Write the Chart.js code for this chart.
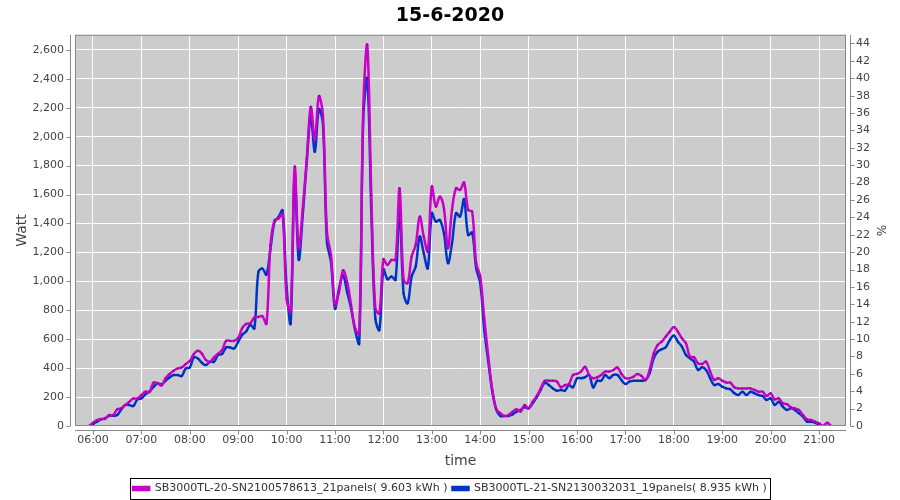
<!DOCTYPE html>
<html>
<head>
<meta charset="utf-8">
<script src="https://cdn.jsdelivr.net/npm/chart.js@4.4.0/dist/chart.umd.min.js"></script>
<style>
  html, body { margin: 0; background: #fff; }
</style>
</head>
<body>
<canvas id="chart" width="900" height="500"></canvas>
<script>
// samples every 5 minutes, starting 05:55
const startMinute = 5 * 60 + 55;
const stepMinutes = 5;

const seriesNames = [
  'SB3000TL-20-SN2100578613_21panels( 9.603 kWh )',
  'SB3000TL-21-SN2130032031_19panels( 8.935 kWh )'
];

const sb20 = [
  0, 23, 40, 48, 50, 75, 75, 115, 122, 145, 168, 190, 190,
  214, 237, 237, 300, 295, 280, 330, 360, 382, 398, 405, 428,
  450, 497, 520, 500, 455, 444, 474, 500, 524, 589, 589, 589,
  608, 676, 706, 710, 750, 754, 758, 706, 1250, 1422, 1434, 1468,
  881, 788, 1791, 1226, 1503, 1849, 2206, 1975, 2280, 2150, 1342, 1180,
  834, 927, 1076, 996, 834, 673, 640, 2194, 2632, 1595, 811, 779,
  1152, 1113, 1148, 1148, 1643, 1010, 987, 1171, 1252, 1448, 1309, 1206,
  1655, 1517, 1586, 1505, 1229, 1494, 1643, 1632, 1683, 1494, 1482, 1125,
  1033, 745, 479, 249, 115, 88, 69, 76, 99, 115, 99, 145,
  122, 168, 207, 260, 313, 313, 313, 307, 267, 283, 290, 353,
  360, 376, 410, 353, 330, 337, 353, 376, 376, 387, 406, 360,
  330, 330, 341, 360, 346, 318, 387, 502, 560, 583, 618, 652,
  685, 652, 606, 572, 479, 475, 433, 429, 445, 376, 318, 330,
  313, 300, 300, 267, 260, 260, 260, 260, 249, 237, 237, 207,
  226, 184, 191, 157, 152, 129, 122, 111, 76, 46, 41, 30,
  18, 0, 23, 0
];

const sb21 = [
  0, 14, 30, 46, 53, 71, 71, 76, 115, 145, 145, 138, 184,
  191, 220, 237, 270, 295, 288, 313, 336, 352, 352, 345, 398,
  405, 474, 467, 437, 421, 444, 444, 490, 497, 543, 543, 536,
  582, 630, 655, 700, 674, 1065, 1088, 1046, 1226, 1410, 1445, 1490,
  961, 710, 1745, 1150, 1457, 1826, 2137, 1895, 2190, 2091, 1272, 1134,
  811, 950, 1042, 927, 811, 661, 570, 2114, 2402, 1480, 742, 664,
  1083, 1014, 1033, 1010, 1505, 917, 848, 1033, 1102, 1309, 1194, 1090,
  1471, 1413, 1424, 1332, 1125, 1263, 1471, 1448, 1567, 1320, 1337, 1090,
  987, 664, 445, 237, 111, 69, 69, 69, 80, 99, 111, 129,
  122, 157, 198, 249, 300, 283, 260, 244, 249, 244, 283, 267,
  330, 330, 337, 353, 267, 313, 313, 353, 330, 353, 353, 318,
  290, 307, 313, 313, 313, 318, 364, 468, 514, 530, 544, 595,
  625, 583, 549, 491, 468, 445, 387, 406, 387, 330, 283, 290,
  272, 260, 254, 226, 214, 237, 214, 237, 226, 214, 207, 180,
  191, 145, 168, 134, 111, 122, 111, 88, 65, 30, 30, 23,
  7, 0, 0, null
];

const toPoints = arr => arr.map((v, i) => ({ x: startMinute + i * stepMinutes, y: v }));
const hhmm = m => String(Math.floor(m / 60)).padStart(2, '0') + ':' + String(m % 60).padStart(2, '0');

const FONT = 'DejaVu Sans';
const AXIS_GREY = '#888888';

const plotFrame = {
  id: 'plotFrame',
  beforeDraw(chart) {
    const { ctx, chartArea: a } = chart;
    ctx.save();
    ctx.fillStyle = '#cccccc';
    ctx.fillRect(a.left, a.top, a.right - a.left, a.bottom - a.top);
    ctx.restore();
  },
  afterDraw(chart) {
    const { ctx, chartArea: a, scales } = chart;
    ctx.save();
    ctx.strokeStyle = AXIS_GREY;
    ctx.lineWidth = 1;
    ctx.strokeRect(a.left + 0.5, a.top + 0.5, a.right - a.left - 1, a.bottom - a.top - 1);

    // offset axis lines with outward ticks
    ctx.beginPath();
    const lx = a.left - 4.5, rx = a.right + 4.5, by = a.bottom + 4.5;
    ctx.moveTo(lx, a.top); ctx.lineTo(lx, a.bottom);
    ctx.moveTo(rx, a.top); ctx.lineTo(rx, a.bottom);
    ctx.moveTo(a.left, by); ctx.lineTo(a.right, by);
    scales.y.ticks.forEach(t => {
      const py = Math.round(scales.y.getPixelForValue(t.value)) + 0.5;
      ctx.moveTo(lx, py); ctx.lineTo(lx - 4, py);
    });
    scales.y2.ticks.forEach(t => {
      const py = Math.round(scales.y2.getPixelForValue(t.value)) + 0.5;
      ctx.moveTo(rx, py); ctx.lineTo(rx + 4, py);
    });
    scales.x.ticks.forEach(t => {
      const px = Math.round(scales.x.getPixelForValue(t.value)) + 0.5;
      ctx.moveTo(px, by); ctx.lineTo(px, by + 4);
    });
    ctx.stroke();

    // legend frame
    const boxes = chart.legend.legendHitBoxes;
    if (boxes && boxes.length) {
      const left = Math.min(...boxes.map(b => b.left)) - 3;
      const right = Math.max(...boxes.map(b => b.left + b.width)) + 3;
      const top = Math.min(...boxes.map(b => b.top)) - 5;
      const bottom = Math.max(...boxes.map(b => b.top + b.height)) + 5;
      ctx.strokeStyle = '#000';
      ctx.strokeRect(Math.round(left) + 0.5, Math.round(top) + 0.5, Math.round(right - left), Math.round(bottom - top));
    }
    ctx.restore();
  }
};

new Chart(document.getElementById('chart'), {
  type: 'line',
  data: {
    datasets: [
      { label: seriesNames[0], data: toPoints(sb20), borderColor: '#cc00cc', backgroundColor: '#cc00cc',
        borderWidth: 2.5, pointRadius: 1, pointBorderWidth: 0, pointBackgroundColor: '#9a009a',
        tension: 0.35, yAxisID: 'y' },
      { label: seriesNames[1], data: toPoints(sb21), borderColor: '#0035cc', backgroundColor: '#0035cc',
        borderWidth: 2.5, pointRadius: 1, pointBorderWidth: 0, pointBackgroundColor: '#00249a',
        tension: 0.35, yAxisID: 'y' }
    ]
  },
  options: {
    responsive: false,
    animation: false,
    devicePixelRatio: 1,
    layout: { padding: { top: 0, left: 0, right: 0, bottom: -4 } },
    plugins: {
      title: {
        display: true, text: '15-6-2020', color: '#000',
        font: { family: FONT, size: 19, weight: 'bold' },
        padding: { top: 5, bottom: 7 }
      },
      legend: {
        position: 'bottom',
        labels: {
          color: '#333', font: { family: FONT, size: 11 },
          boxWidth: 16, boxHeight: 3, padding: 5
        }
      },
      tooltip: { enabled: false }
    },
    scales: {
      x: {
        type: 'linear', position: 'bottom',
        min: 337.7, max: 1293.4,
        border: { display: false },
        grid: { color: 'rgba(255,255,255,0.95)', borderDash: [2, 2], drawTicks: false },
        ticks: {
          stepSize: 60, includeBounds: false, autoSkip: false, maxRotation: 0,
          color: '#444', font: { family: FONT, size: 11 }, padding: 8,
          callback: v => hhmm(v)
        },
        title: { display: true, text: 'time', color: '#444', font: { family: FONT, size: 14 }, padding: { top: 4, bottom: 8 } },
        afterFit: s => { s.height = 52; }
      },
      y: {
        position: 'left', min: 0, max: 2704,
        border: { display: false },
        grid: { color: 'rgba(255,255,255,0.95)', borderDash: [2, 2], drawTicks: false },
        ticks: {
          stepSize: 200, includeBounds: false,
          color: '#444', font: { family: FONT, size: 11 }, padding: 11,
          callback: v => v.toLocaleString('en-US')
        },
        title: { display: true, text: 'Watt', color: '#444', font: { family: FONT, size: 14 }, padding: { top: 14, bottom: 0 } },
        afterFit: s => { s.width = 75; }
      },
      y2: {
        position: 'right', min: 0, max: 45, display: true,
        border: { display: false },
        grid: { drawOnChartArea: false, drawTicks: false },
        ticks: {
          stepSize: 2, includeBounds: false,
          color: '#444', font: { family: FONT, size: 11 }, padding: 10
        },
        title: { display: true, text: '%', color: '#444', font: { family: FONT, size: 12 }, padding: { top: 13, bottom: 0 } },
        afterFit: s => { s.width = 54; }
      }
    }
  },
  plugins: [plotFrame]
});
</script>
</body>
</html>
